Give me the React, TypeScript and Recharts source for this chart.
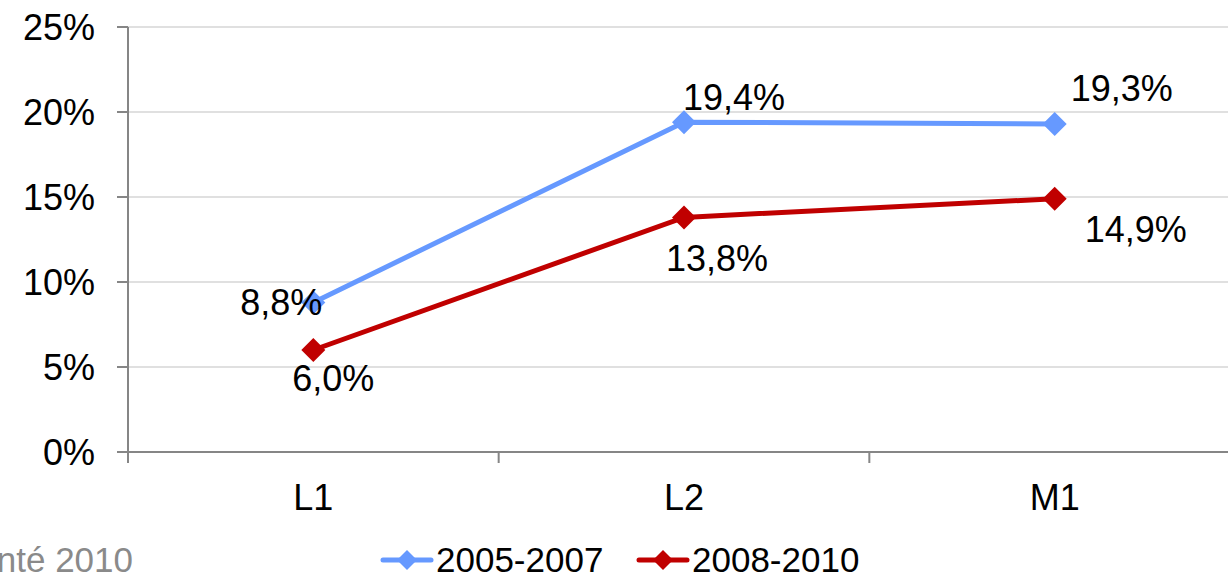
import { LineChart, Line, XAxis, YAxis, CartesianGrid, LabelList } from "recharts";

const categories = ["L1", "L2", "M1"];
const series2005 = [8.8, 19.4, 19.3];
const series2008 = [6.0, 13.8, 14.9];
const yTicks = [0, 5, 10, 15, 20, 25];
const xTicks = [0, 0.5, 1, 1.5, 2, 2.5, 3];

const BLUE = "#6699ff";
const RED = "#c00000";
const AXIS = "#868686";
const FONT = "'Liberation Sans', Arial, sans-serif";

const data = categories.map((c, i) => ({
  x: i + 0.5,
  name: c,
  a: series2005[i],
  b: series2008[i],
}));

const fmt = (v: number) => `${v.toFixed(1).replace(".", ",")}%`;

// label placement, as in the original workbook (manually nudged)
const offsetsA = [
  [-32, 0],
  [50, -25],
  [67, -36],
];
const offsetsB = [
  [20, 28],
  [33, 41],
  [81, 31],
];

function Diamond({ cx, cy, fill, r = 12 }: any) {
  if (cx == null || cy == null) return null;
  return (
    <polygon
      points={`${cx},${cy - r} ${cx + r},${cy} ${cx},${cy + r} ${cx - r},${cy}`}
      fill={fill}
    />
  );
}

const makeLabel = (offsets: number[][]) => (props: any) => {
  const { x, y, value, index } = props;
  const [dx, dy] = offsets[index] || [0, 0];
  return (
    <text
      x={x + dx}
      y={y + dy}
      dy="0.355em"
      textAnchor="middle"
      fontSize={36}
      fontFamily={FONT}
      fill="#000"
    >
      {fmt(value)}
    </text>
  );
};

function XTick({ x, y, payload }: any) {
  const v = payload.value;
  if (Number.isInteger(v)) {
    return <line x1={x} x2={x} y1={y} y2={y + 11} stroke={AXIS} strokeWidth={2} />;
  }
  const idx = Math.floor(v);
  return (
    <text
      x={x}
      y={y + 45}
      textAnchor="middle"
      dy="0.355em"
      fontSize={36}
      fontFamily={FONT}
      fill="#000"
    >
      {categories[idx]}
    </text>
  );
}

function LegendItem({ x, color, label }: { x: number; color: string; label: string }) {
  return (
    <g>
      <line x1={x + 3} x2={x + 51} y1={560} y2={560} stroke={color} strokeWidth={5} strokeLinecap="round" />
      <Diamond cx={x + 27} cy={560} fill={color} r={10} />
      <text x={x + 56} y={560} dy="0.355em" fontSize={35} fontFamily={FONT} fill="#000">
        {label}
      </text>
    </g>
  );
}

export default function App() {
  return (
    <div
      style={{
        position: "absolute",
        left: 0,
        top: 0,
        width: 1228,
        height: 575,
        overflow: "hidden",
        background: "#fff",
        fontFamily: FONT,
      }}
    >
      <LineChart
        width={1280}
        height={575}
        data={data}
        margin={{ top: 27, right: 40, left: 8, bottom: 63 }}
      >
        <CartesianGrid vertical={false} stroke="#d6d6d6" strokeWidth={1.5} />
        <XAxis
          dataKey="x"
          type="number"
          domain={[0, 3]}
          ticks={xTicks}
          interval={0}
          height={60}
          tickSize={0}
          tickMargin={0}
          tickLine={false}
          axisLine={{ stroke: AXIS, strokeWidth: 2 }}
          tick={<XTick />}
        />
        <YAxis
          width={120}
          domain={[0, 25]}
          ticks={yTicks}
          interval={0}
          tickSize={11}
          tickMargin={22}
          tickLine={{ stroke: AXIS, strokeWidth: 2 }}
          axisLine={{ stroke: AXIS, strokeWidth: 2 }}
          tickFormatter={(v) => `${v}%`}
          tick={{ fontSize: 36, fontFamily: FONT, fill: "#000" }}
        />
        <Line
          dataKey="a"
          stroke={BLUE}
          strokeWidth={5}
          dot={(p: any) => <Diamond key={`a${p.index}`} cx={p.cx} cy={p.cy} fill={BLUE} />}
          activeDot={false}
          isAnimationActive={false}
        >
          <LabelList dataKey="a" content={makeLabel(offsetsA)} />
        </Line>
        <Line
          dataKey="b"
          stroke={RED}
          strokeWidth={5}
          dot={(p: any) => <Diamond key={`b${p.index}`} cx={p.cx} cy={p.cy} fill={RED} />}
          activeDot={false}
          isAnimationActive={false}
        >
          <LabelList dataKey="b" content={makeLabel(offsetsB)} />
        </Line>
      </LineChart>
      <svg
        width={1228}
        height={575}
        style={{ position: "absolute", left: 0, top: 0, pointerEvents: "none" }}
      >
        <text x={133} y={560} dy="0.355em" textAnchor="end" fontSize={35} fontFamily={FONT} fill="#8a8a8a">
          nté 2010
        </text>
        <LegendItem x={380} color={BLUE} label="2005-2007" />
        <LegendItem x={636} color={RED} label="2008-2010" />
      </svg>
    </div>
  );
}
